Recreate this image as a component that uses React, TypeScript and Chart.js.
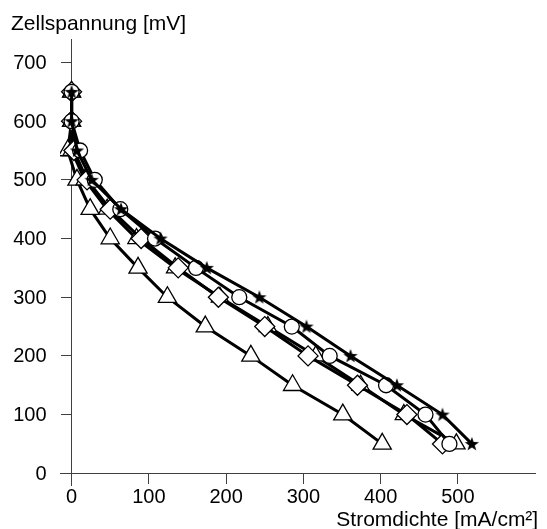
import React, { useEffect, useRef } from "react";
import { Chart, registerables } from "chart.js";

Chart.register(...registerables);

// Cell voltage levels [mV] shared by all series
const voltage = [650, 600, 550, 500, 450, 400, 350, 300, 250, 200, 150, 100, 50];
// Current density [mA/cm²] per series
const currentStar = [0, 0, 7, 26, 64, 115, 175, 243, 304, 361, 421, 480, 518];
const currentCircle = [0, 0, 11, 30, 63, 108, 161, 217, 285, 334, 407, 458, 489];
const currentDiamond = [0, 0, 3, 20, 50, 90, 138, 190, 250, 306, 370, 434, 480];
const currentTriangleB = [0, 0, 0, 17, 46, 84, 134, 192, 254, 316, 374, 430, 498];
const currentTriangle = [0, 0, -5, 7, 24, 50, 86, 124, 173, 232, 286, 351, 402];

const xTicks = [0, 100, 200, 300, 400, 500];
const yTicks = [0, 100, 200, 300, 400, 500, 600, 700];
const xTitle = "Stromdichte [mA/cm²]";
const yTitle = "Zellspannung [mV]";

const FONT = '"Liberation Sans", Arial, Helvetica, sans-serif';
const AXIS = "#404040";
const TICK_LEN = 10;

function toPoints(xs: number[]) {
  return xs.map((x, i) => ({ x, y: voltage[i] }));
}

function makeStar(): HTMLCanvasElement {
  const c = document.createElement("canvas");
  const s = 16;
  c.width = s;
  c.height = s;
  const ctx = c.getContext("2d")!;
  const cx = s / 2, cy = s / 2 + 0.5;
  const ro = 7.5, ri = 3.0;
  ctx.beginPath();
  for (let i = 0; i < 10; i++) {
    const r = i % 2 === 0 ? ro : ri;
    const a = -Math.PI / 2 + (i * Math.PI) / 5;
    const px = cx + r * Math.cos(a);
    const py = cy + r * Math.sin(a);
    if (i === 0) ctx.moveTo(px, py);
    else ctx.lineTo(px, py);
  }
  ctx.closePath();
  ctx.fillStyle = "#000";
  ctx.fill();
  return c;
}

export default function App() {
  const ref = useRef<HTMLCanvasElement>(null);

  useEffect(() => {
    document.body.style.margin = "0";
    const starImg = makeStar();

    const labelPlugin = {
      id: "axisLabels",
      afterDraw(chart: any) {
        const ctx = chart.ctx;
        const area = chart.chartArea;
        const xs = chart.scales.x;
        const ys = chart.scales.y;
        ctx.save();
        ctx.fillStyle = "#000";
        // y tick labels, right-aligned left of the tick marks
        ctx.font = `20px ${FONT}`;
        ctx.textAlign = "right";
        ctx.textBaseline = "middle";
        const axisX = xs.getPixelForValue(0);
        yTicks.forEach((v) => {
          ctx.fillText(String(v), axisX - TICK_LEN - 15, ys.getPixelForValue(v) + 1);
        });
        // axis titles
        ctx.font = `21px ${FONT}`;
        ctx.textBaseline = "alphabetic";
        ctx.textAlign = "left";
        ctx.fillText(yTitle, 11, area.top - 9.5);
        ctx.textAlign = "right";
        ctx.fillText(xTitle, area.right + 3, area.bottom + 41);
        ctx.restore();
      },
    };

    const base = {
      borderColor: "#000",
      borderWidth: 3,
      pointBackgroundColor: "#fff",
      pointBorderColor: "#000",
      pointBorderWidth: 1.3,
      fill: false,
      tension: 0,
    };

    const chart = new Chart(ref.current!, {
      type: "line",
      data: {
        datasets: [
          { ...base, label: "★", data: toPoints(currentStar), pointStyle: starImg as any, pointRadius: 7 },
          { ...base, label: "○", data: toPoints(currentCircle), pointStyle: "circle", pointRadius: 7.5 },
          { ...base, label: "◇", data: toPoints(currentDiamond), pointStyle: "rectRot", pointRadius: 10 },
          { ...base, label: "△2", data: toPoints(currentTriangleB), pointStyle: "triangle", pointRadius: 10 },
          { ...base, label: "△", data: toPoints(currentTriangle), pointStyle: "triangle", pointRadius: 10.5 },
        ],
      },
      options: {
        animation: false,
        responsive: false,
        devicePixelRatio: 1,
        layout: { padding: { left: 60, top: 39, right: 6, bottom: 44 } },
        plugins: {
          legend: { display: false },
          tooltip: { enabled: false },
          title: { display: false },
        },
        scales: {
          x: {
            type: "linear",
            min: -15,
            max: 600,
            position: { y: 0 } as any,
            afterBuildTicks: (scale: any) => {
              scale.ticks = xTicks.map((v) => ({ value: v }));
            },
            border: { display: true, color: AXIS, width: 1 },
            grid: { drawOnChartArea: false, drawTicks: true, tickLength: TICK_LEN, color: AXIS, tickColor: AXIS },
            ticks: { color: "#000", font: { family: FONT, size: 20 }, padding: 2, maxRotation: 0 },
          },
          y: {
            type: "linear",
            min: -20,
            max: 740,
            position: { x: 0 } as any,
            afterBuildTicks: (scale: any) => {
              scale.ticks = yTicks.map((v) => ({ value: v }));
            },
            border: { display: true, color: AXIS, width: 1 },
            grid: { drawOnChartArea: false, drawTicks: true, tickLength: TICK_LEN, color: AXIS, tickColor: AXIS },
            ticks: { display: false },
          },
        },
      },
      plugins: [labelPlugin],
    });

    return () => chart.destroy();
  }, []);

  return (
    <div style={{ position: "absolute", left: 0, top: 0, width: 547, height: 529, background: "#fff" }}>
      <canvas ref={ref} width={547} height={529} style={{ display: "block", width: 547, height: 529 }} />
    </div>
  );
}
